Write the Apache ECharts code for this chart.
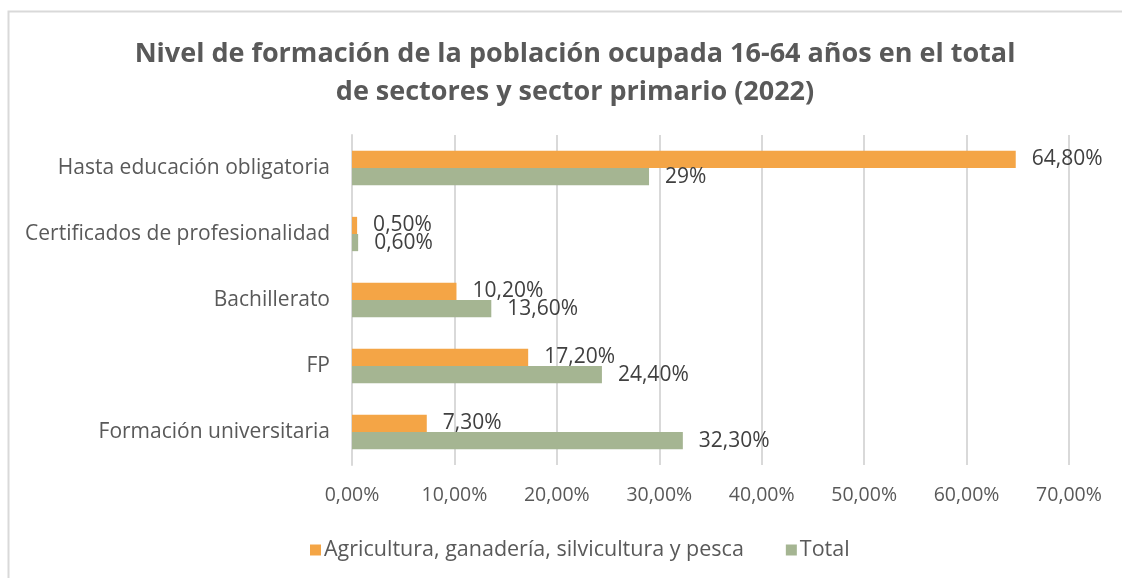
<!DOCTYPE html>
<html>
<head>
<meta charset="utf-8">
<script src="https://cdn.jsdelivr.net/npm/echarts@6/dist/echarts.min.js"></script>
<style>
html,body{margin:0;padding:0;background:#fff;}
#c{width:1122px;height:578px;}
</style>
</head>
<body>
<div id="c"></div>
<script>
const categories = ['Hasta educación obligatoria','Certificados de profesionalidad','Bachillerato','FP','Formación universitaria'];
const agriValues = [64.8, 0.5, 10.2, 17.2, 7.3];
const totalValues = [29, 0.6, 13.6, 24.4, 32.3];
const seriesNames = ['Agricultura, ganadería, silvicultura y pesca','Total'];
const xTicks = {min:0, max:70, interval:10};

const fmtLabel = v => Number.isInteger(v) ? v + '%' : v.toFixed(2).replace('.', ',') + '%';
const fmtAxis = v => v.toFixed(2).replace('.', ',') + '%';
const FONT = '"Open Sans", "Noto Sans", sans-serif';

const chart = echarts.init(document.getElementById('c'), null, {renderer:'canvas'});
const labelCfg = {
  show:true, position:'right', distance:16,
  color:'#404040', fontSize:21, fontFamily:FONT,
  formatter: p => fmtLabel(p.value)
};
chart.setOption({
  backgroundColor:'#fff',
  animation:false,
  title:{
    text:'Nivel de formación de la población ocupada 16-64 años en el total\nde sectores y sector primario (2022)',
    left:570, top:30, textAlign:'center',
    textStyle:{fontFamily:FONT, fontWeight:'bold', fontSize:27, color:'#595959', lineHeight:38}
  },
  graphic:[{
    type:'rect', shape:{x:8.5, y:11.5, width:1200, height:700},
    style:{fill:'none', stroke:'#d9d9d9', lineWidth:2}, silent:true
  }],
  legend:{
    bottom:12, left:305,
    itemWidth:11, itemHeight:11, itemGap:42,
    icon:'rect',
    textStyle:{fontFamily:FONT, fontSize:21.5, color:'#595959', padding:[0,0,0,-2]},
    data:seriesNames
  },
  grid:{left:352, right:53, top:135, bottom:113, containLabel:false},
  xAxis:{
    type:'value', min:xTicks.min, max:xTicks.max, interval:xTicks.interval,
    axisLine:{show:false}, axisTick:{show:false},
    splitLine:{show:true, lineStyle:{color:'#d9d9d9', width:2}},
    axisLabel:{formatter:fmtAxis, fontFamily:FONT, fontSize:19.5, color:'#595959', margin:20}
  },
  yAxis:{
    type:'category', data:categories, inverse:true,
    axisLine:{show:true, lineStyle:{color:'#d9d9d9', width:2}},
    axisTick:{show:false},
    axisLabel:{fontFamily:FONT, fontSize:21, color:'#595959', margin:22}
  },
  series:[
    {name:seriesNames[0], type:'bar', data:agriValues, itemStyle:{color:'#F4A546'},
     barGap:'0%', barCategoryGap:'48%', label:labelCfg},
    {name:seriesNames[1], type:'bar', data:totalValues, itemStyle:{color:'#A5B592'},
     barGap:'0%', barCategoryGap:'48%', label:labelCfg}
  ]
});
</script>
</body>
</html>
